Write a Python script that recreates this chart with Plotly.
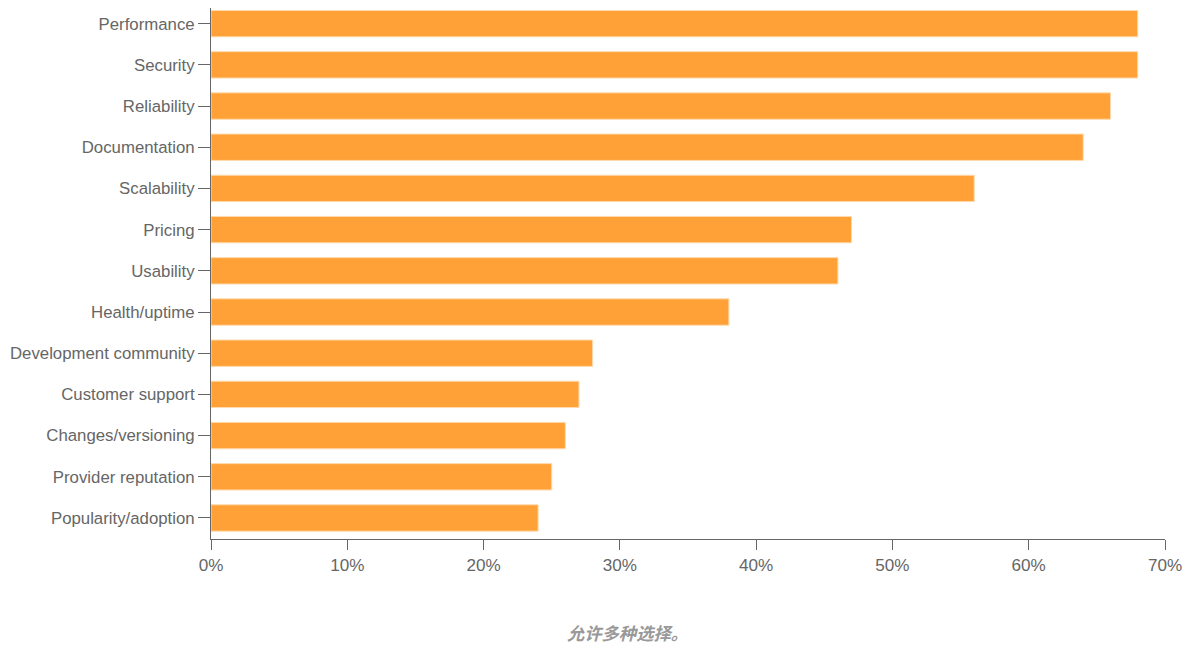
import plotly.graph_objects as go

categories = ["Performance", "Security", "Reliability", "Documentation", "Scalability",
              "Pricing", "Usability", "Health/uptime", "Development community",
              "Customer support", "Changes/versioning", "Provider reputation",
              "Popularity/adoption"]
values = [68, 68, 66, 64, 56, 47, 46, 38, 28, 27, 26, 25, 24]
x_ticks = [0, 10, 20, 30, 40, 50, 60, 70]
x_tick_labels = ["0%", "10%", "20%", "30%", "40%", "50%", "60%", "70%"]
footnote = "允许多种选择。"

W, H = 1191, 644
L, R, T, B = 203, 34, 0, 113

fig = go.Figure(go.Bar(
    x=values, y=categories, orientation="h",
    marker=dict(color="#ffa136", line=dict(color="#ffd9ad", width=1)),
    hoverinfo="x+y",
))

fig.update_layout(
    width=W, height=H,
    margin=dict(l=L, r=R, t=T, b=B, pad=0, autoexpand=False),
    plot_bgcolor="white", paper_bgcolor="white",
    bargap=0.36,
    showlegend=False,
    font=dict(family="Liberation Sans, Arial, sans-serif", size=16.8, color="#666"),
    xaxis=dict(range=[0, 70], tickvals=x_ticks, ticktext=x_tick_labels,
               automargin=False,
               showgrid=False, zeroline=False, showline=True, linecolor="#666",
               linewidth=1, ticks="outside", ticklen=10, tickcolor="#666",
               tickfont=dict(size=17.1, color="#666")),
    yaxis=dict(categoryorder="array", categoryarray=categories[::-1],
               range=[-0.51, 12.38], automargin=False,
               showgrid=False, zeroline=False, showline=True, linecolor="#666",
               linewidth=1, ticks="outside", ticklen=12, tickcolor="#666",
               tickfont=dict(size=16.8, color="#666")),
    annotations=[dict(text="<b><i>" + footnote + "</i></b>",
                      x=(619 - L) / (W - L - R), y=-(624 - (H - B)) / (H - T - B),
                      xref="paper", yref="paper", xanchor="center", yanchor="middle",
                      showarrow=False,
                      font=dict(family="Noto Sans CJK SC", size=17.3, color="#999"))],
)

fig.write_html("out.html")
